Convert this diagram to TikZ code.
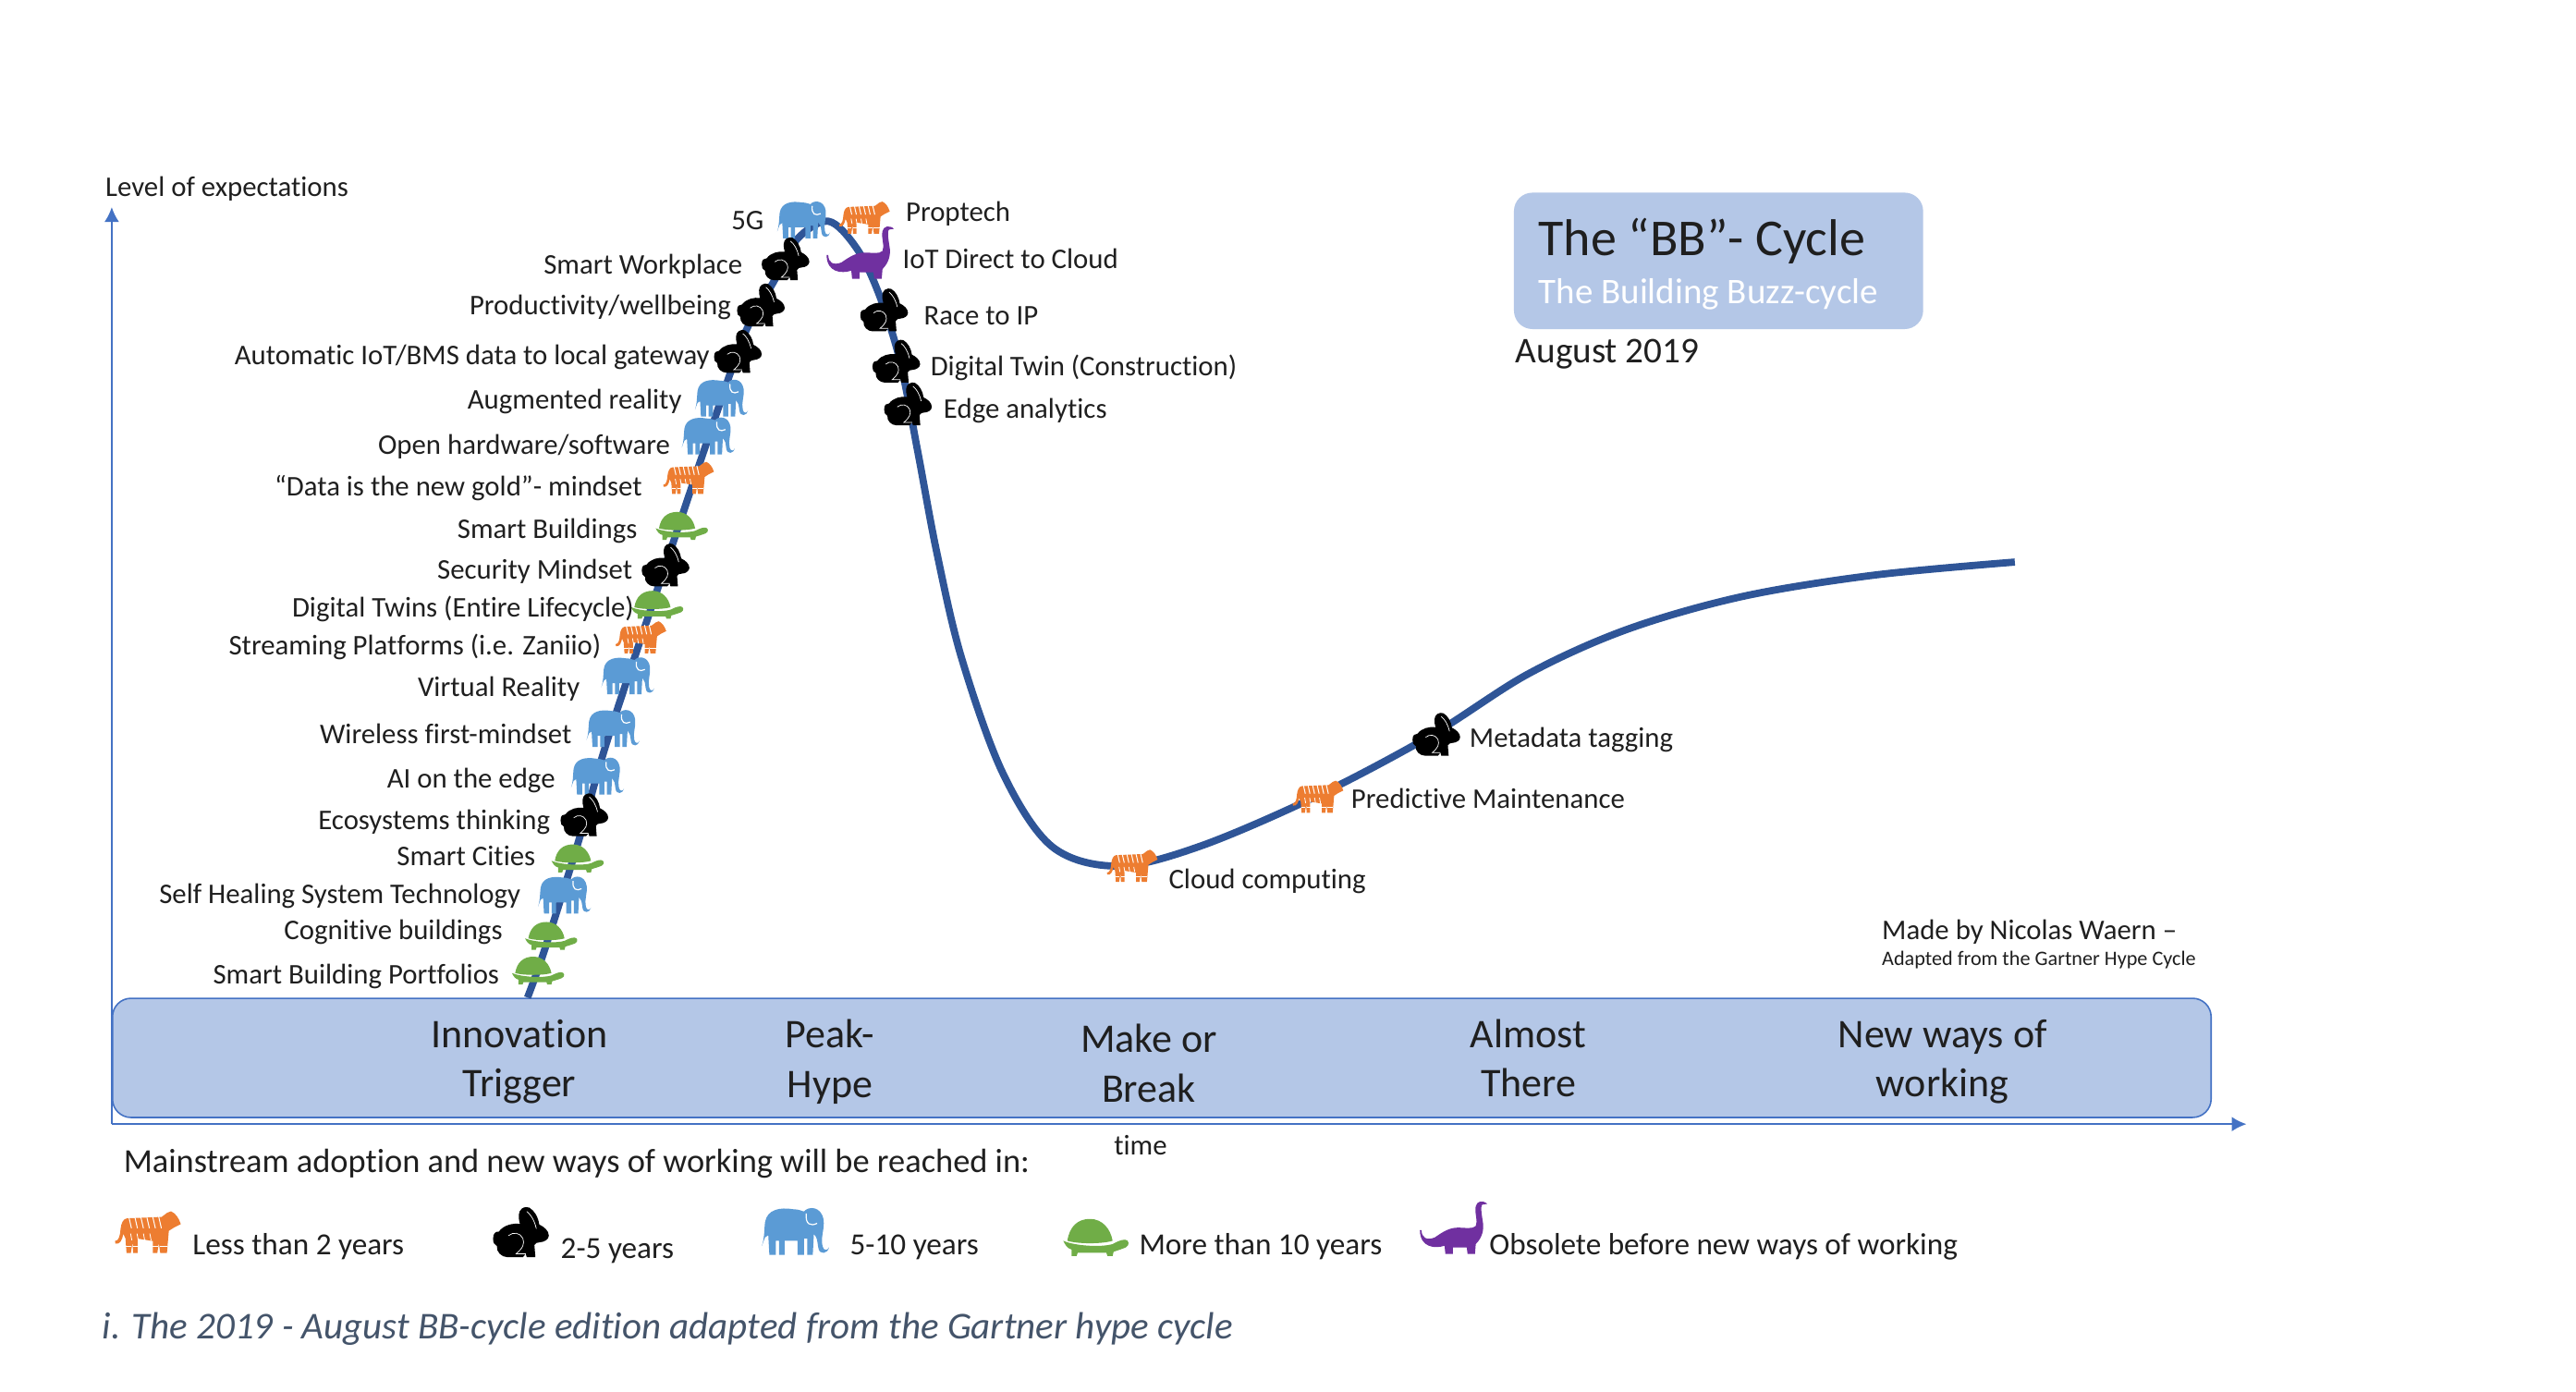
\documentclass[tikz,border=0pt]{standalone}
\usepackage{fontspec}
\setmainfont{Carlito}[Ligatures=NoCommon]
\usetikzlibrary{arrows.meta}
\definecolor{tigerc}{HTML}{ED7D31}
\definecolor{elec}{HTML}{5B9BD5}
\definecolor{turc}{HTML}{70AD47}
\definecolor{dinoc}{HTML}{7030A0}
\definecolor{bandc}{HTML}{B4C7E7}
\definecolor{axisc}{HTML}{4472C4}
\definecolor{curvec}{HTML}{2F5597}
\definecolor{capc}{HTML}{44546A}
\tikzset{
  lab/.style={inner sep=0pt,font=\fontsize{15.4}{18}\selectfont,text=black!88},
  labr/.style={lab,anchor=mid east,yshift=-2.6pt},
  labl/.style={lab,anchor=mid west,yshift=-2.6pt},
  keylab/.style={labl,font=\fontsize{16.6}{20}\selectfont},
  phase/.style={inner sep=0pt,align=center,yshift=-1.8pt,font=\fontsize{22}{26.7}\selectfont,text=black!88},
  bluebox/.style={fill=bandc,rounded corners=10pt},
  axisline/.style={draw=axisc,line width=1.1pt,-{Latex[length=8pt,width=8pt]}},
  elephant/.pic={
    \fill[elec,scale=1.04] (-15.5,7) .. controls (-14.2,3) and (-14.5,1) .. (-14,-4) .. controls (-13,-10) and (-7,-11) .. (-1,-10) .. controls (2,-10) and (3,-9) .. (4,-9) .. controls (6,-11.5) and (12,-11.5) .. (13,-5) .. controls (13.5,-1) and (11.5,3) .. (12.5,7) .. controls (13,9.5) and (15,9) .. (15.5,7.5) .. controls (15,10.5) and (11,11.5) .. (10.5,7.5) .. controls (10,4) and (10,3) .. (8.5,1.5) -- (8,11) -- (5.5,11) -- (5.5,3.5) -- (4,3.5) -- (4,11) -- (1,11) -- (1,4.5) -- (-5,4.5) -- (-5,11) -- (-7.5,11) -- (-7.5,4.5) -- (-9,4.5) -- (-9,11) -- (-12,11) -- (-12.5,2) -- (-14,3) -- cycle;
    \draw[white,line width=0.6pt,scale=1.04] (5,-8) .. controls (4.5,-3) and (7,-2) .. (10,-3.5);
  },
  tiger/.pic={
    \begin{scope}[yscale=1.13]
    \fill[tigerc] (-15.4,3.5) .. controls (-13.5,3.5) and (-13,1) .. (-12.8,-1.5) .. controls (-12.5,-4) and (-11.5,-5.7) .. (-9.8,-5.9) -- (6.5,-6.5) -- (9,-8.2) -- (10.8,-8.8) .. controls (13,-8) and (14.5,-6) .. (15.4,-3.5) -- (12.2,-2.1) -- (9.8,-0.7) -- (8.9,8.5) -- (5.8,8.5) -- (5.1,4.3) -- (4.4,8.5) -- (2.3,8.5) -- (2.3,3.5) -- (-4.8,2.5) -- (-4.8,8.5) -- (-6.9,8.5) -- (-7.2,4) -- (-8,8.5) -- (-10,8.5) -- (-10.5,2.5) -- (-11.5,0.5) .. controls (-12,3) and (-13,5) .. (-15.2,4.6) -- cycle;
    \foreach \sx in {-9,-6.2,-3.4,-0.6,2.2,5}{\draw[white,line width=0.5pt] (\sx,-6.8) -- ++(1.3,5);}
    \foreach \sx in {-7.5,-4.5,-1.5,1.5}{\draw[white,line width=0.4pt] (\sx,3.2) -- ++(-0.6,-2.8);}
    \draw[white,line width=0.35pt] (-10.2,5.5) -- (-7.8,5.5) (-7,5.5) -- (-4.6,5.5) (2.2,5.5) -- (4.8,5.5) (5.5,5.5) -- (9.2,5.5);
    \end{scope}
  },
  rabbit/.pic={
    \fill[black] (-14.5,3.2) .. controls (-14.5,0) and (-13,-0.5) .. (-11.5,-0.5) .. controls (-9,-4) and (-4,-5) .. (-0.5,-4.5) .. controls (-1.5,-8) and (-1.5,-11) .. (0.5,-12.5) .. controls (2,-13.5) and (3,-13.3) .. (4.3,-13) .. controls (7,-11.5) and (9,-8) .. (9.5,-4.2) .. controls (12,-3) and (14.5,-1) .. (14.5,1.6) .. controls (14.5,3.5) and (12,5) .. (10,5) .. controls (8.5,5) and (7.5,5.5) .. (7,6.5) -- (7.5,12.8) -- (3,12.8) -- (2.5,11) -- (1,12.8) -- (-7,12.8) .. controls (-10,12.8) and (-13,10) .. (-12.5,7) .. controls (-14,6.5) and (-14.5,5) .. (-14.5,3.2) -- cycle;
    \draw[white,line width=0.35pt] (-6.5,1.6) .. controls (-4,-0.5) and (-0.5,0) .. (1,3) .. controls (2,6) and (1,8) .. (-2.5,11) -- (2.5,11);
    \draw[white,line width=0.35pt] (3,-11) .. controls (5,-9.5) and (7,-6.5) .. (8,-2);
  },
  turtle/.pic={
    \fill[turc] (-14,1.5) .. controls (-13,-5) and (-9,-8.5) .. (-3,-8.5) .. controls (3,-8.5) and (7,-4) .. (8,1.5) .. controls (3,3) and (-9,3) .. (-14,1.5) -- cycle;
    \fill[turc] (-16,1.5) .. controls (-10,4) and (3,4.5) .. (8,3) .. controls (10,2) and (12,1) .. (14,1) .. controls (16,1) and (16.5,3.5) .. (14.5,4.5) .. controls (12,5.5) and (10,6) .. (8.5,6.5) -- (8,8.5) -- (5.5,8.5) -- (5,7) -- (-9,7) -- (-9.5,8.5) -- (-12,8.5) -- (-12,5.5) .. controls (-14,5) and (-15,3.5) .. (-16,1.5) -- cycle;
  },
  dino/.pic={
    \fill[dinoc] (-20,1.5) .. controls (-20,6) and (-17,8) .. (-12,6) .. controls (-7,2.5) and (-3,0) .. (2,0) .. controls (7,0) and (11,1) .. (13,-1) .. controls (14.5,-4) and (12,-9) .. (13,-13) .. controls (13.5,-16) and (17,-17) .. (20,-14.5) -- (17,-14) .. controls (15.5,-13) and (17,-6) .. (17.5,-2) .. controls (18,4) and (15,8) .. (13,10) -- (12.5,16) -- (8,16) -- (7.5,12) -- (-1,12) -- (-1,16) -- (-5.5,16) -- (-6,11) .. controls (-12,13) and (-21,12) .. (-21,1.5) -- cycle;
  }
}
\begin{document}
\begin{tikzpicture}[x=0.889pt,y=-0.889pt]
\useasboundingbox (0,0) rectangle (1567.5,847);
\fill[white] (0,0) rectangle (1567.5,847);
% axes
\coordinate (origin) at (68,684);
\coordinate (ytop) at (68,126);
\coordinate (xend) at (1367,684);
\draw[axisline] (origin) -- (ytop);
\draw[axisline] (origin) -- (xend);
% phase band
\node[draw=axisc,line width=0.8pt,bluebox,minimum width=1277*0.889pt,minimum height=72.5*0.889pt,anchor=north west,inner sep=0pt] (band) at (68,607) {};
\node[phase] (ph1) at (316,644) {Innovation\\Trigger};
\node[phase] (ph2) at (505,644) {Peak-\\Hype};
\node[phase] (ph3) at (699,645) {Make or\\Break};
\node[phase] (ph4) at (930,642) {Almost\\There};
\node[phase] (ph5) at (1182,644) {New ways of\\working};
% hype curve
\draw[curvec,line width=3.9pt,line join=round] plot[smooth,tension=0.55] coordinates {(321,607) (331.5,577.6) (352.6,510) (369.7,450) (405.8,341.5) (443,231) (455,199) (471,171) (485,145.6) (504,134.6) (521,150.7) (534.4,177.8) (547.5,219) (558.5,275) (570,336) (585,400) (610,470) (640,515) (680,527) (730,515) (800,485) (870,448) (930,410) (990,383) (1060,363) (1140,350) (1226,342)};
% icons on the curve
\pic at (489,133.6) {elephant};
\pic at (526,132.6) {tiger};
\pic at (478,157.7) {rabbit};
\pic at (524,153.7) {dino};
\pic at (463,185.8) {rabbit};
\pic at (449,214) {rabbit};
\pic at (538,188.8) {rabbit};
\pic at (545.4,220) {rabbit};
\pic at (552.5,246) {rabbit};
\pic at (439,242) {elephant};
\pic at (431,265) {elephant};
\pic at (419,291) {tiger};
\pic at (415,320) {turtle};
\pic at (405,344) {rabbit};
\pic at (400,368) {turtle};
\pic at (390,388) {tiger};
\pic at (382,411) {elephant};
\pic at (373,443) {elephant};
\pic at (363.6,472) {elephant};
\pic at (355.6,496) {rabbit};
\pic at (351.6,522.3) {turtle};
\pic at (343.5,544.4) {elephant};
\pic at (335.5,569.5) {turtle};
\pic at (327.5,590.6) {turtle};
\pic at (689,527) {tiger};
\pic at (802,485) {tiger};
\pic at (874,447) {rabbit};
% left labels
\node[labr] (l1) at (465,134) {5G};
\node[labr] (l2) at (452,161) {Smart Workplace};
\node[labr] (l3) at (445,186) {Productivity/wellbeing};
\node[labr] (l4) at (432,216) {Automatic IoT/BMS data to local gateway};
\node[labr] (l5) at (415,243) {Augmented reality};
\node[labr] (l6) at (408,271) {Open hardware/software};
\node[labr] (l7) at (391,296) {“Data is the new gold”- mindset};
\node[labr] (l8) at (388,322) {Smart Buildings};
\node[labr] (l9) at (385,347) {Security Mindset};
\node[labr] (l10) at (386,370) {Digital Twins (Entire Lifecycle)};
\node[labr] (l11) at (366,393) {Streaming Platforms (i.e. Zaniio)};
\node[labr] (l12) at (353,418) {Virtual Reality};
\node[labr] (l13) at (348,447) {Wireless first-mindset};
\node[labr] (l14) at (338,474) {AI on the edge};
\node[labr] (l15) at (335,499) {Ecosystems thinking};
\node[labr] (l16) at (326,521) {Smart Cities};
\node[labr] (l17) at (317,544) {Self Healing System Technology};
\node[labr] (l18) at (306,566) {Cognitive buildings};
\node[labr] (l19) at (304,593) {Smart Building Portfolios};
% right labels
\node[labl] (r1) at (551,129) {Proptech};
\node[labl] (r2) at (549,158) {IoT Direct to Cloud};
\node[labl] (r3) at (562,192) {Race to IP};
\node[labl] (r4) at (566,223) {Digital Twin (Construction)};
\node[labl] (r5) at (574,249) {Edge analytics};
\node[labl] (r6) at (894,449) {Metadata tagging};
\node[labl] (r7) at (822,486) {Predictive Maintenance};
\node[labl] (r8) at (711,535) {Cloud computing};
% title box
\node[bluebox,minimum width=249*0.889pt,minimum height=83*0.889pt,anchor=north west,inner sep=0pt] (titlebox) at (921,117) {};
\node[labl,font=\fontsize{28}{32}\selectfont] (title) at (936,150) {The “BB”- Cycle};
\node[labl,font=\fontsize{19.5}{23}\selectfont,text=white] (subtitle) at (936,179) {The Building Buzz-cycle};
\node[labl,font=\fontsize{19.6}{23}\selectfont] (date) at (922,215) {August 2019};
% credits
\node[labl] (made) at (1145,566) {Made by Nicolas Waern –};
\node[labl,font=\fontsize{11.1}{13}\selectfont] (adapted) at (1145,582) {Adapted from the Gartner Hype Cycle};
% axis labels
\node[labl] (ylab) at (64,114) {Level of expectations};
\node[lab] (xlab) at (694,697) {time};
% legend
\node[labl,font=\fontsize{18.2}{21}\selectfont] (leg) at (75,708) {Mainstream adoption and new ways of working will be reached in:};
\pic[scale=1.3] at (90,750) {tiger};
\pic[scale=1.17] at (317,750) {rabbit};
\pic[scale=1.27] at (484,749) {elephant};
\pic[xscale=1.25,yscale=1.33] at (667,753) {turtle};
\pic at (885,747) {dino};
\node[keylab] (k1) at (117,758) {Less than 2 years};
\node[keylab] (k2) at (341,760) {2-5 years};
\node[keylab] (k3) at (517,758) {5-10 years};
\node[keylab] (k4) at (693,758) {More than 10 years};
\node[keylab] (k5) at (906,758) {Obsolete before new ways of working};
% caption
\node[labl,font=\fontsize{20.5}{24}\selectfont\itshape,text=capc] (cap) at (62,809) {i. The 2019 - August BB-cycle edition adapted from the Gartner hype cycle};
\end{tikzpicture}
\end{document}
